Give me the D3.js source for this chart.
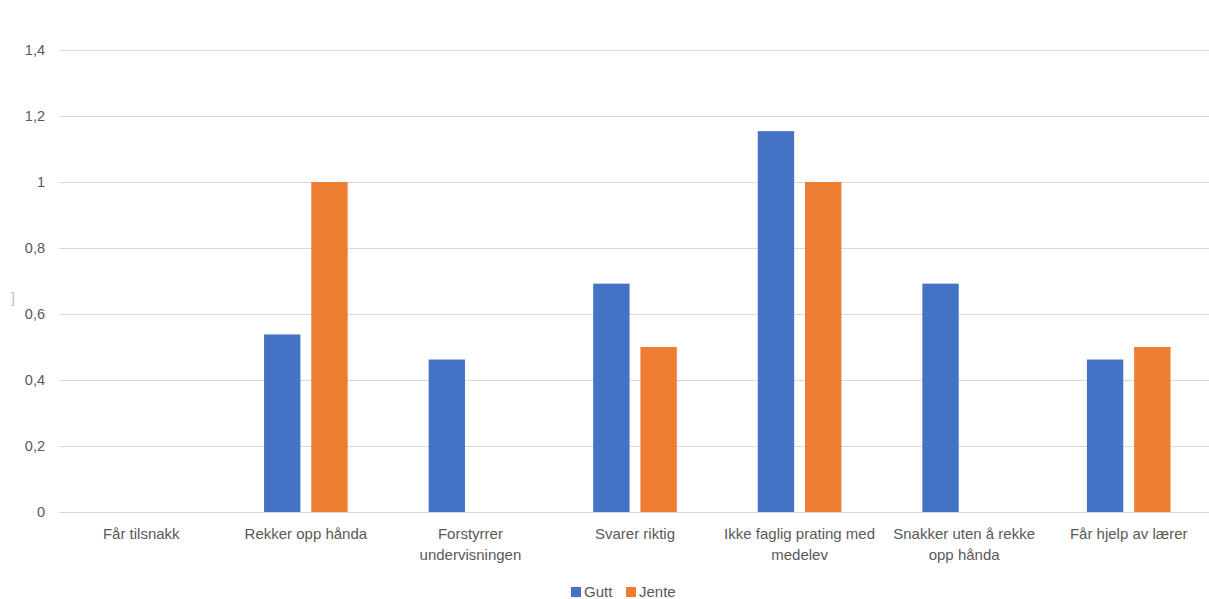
<!DOCTYPE html>
<html><head><meta charset="utf-8">
<script src="https://cdn.jsdelivr.net/npm/d3@7"></script>
<style>body{margin:0;background:#fff}svg{display:block}</style>
</head><body><svg id="c" width="1209" height="599"></svg>
<script>
const categories = ["Får tilsnakk","Rekker opp hånda","Forstyrrer undervisningen","Svarer riktig","Ikke faglig prating med medelev","Snakker uten å rekke opp hånda","Får hjelp av lærer"];
const categoryLines = [["Får tilsnakk"],["Rekker opp hånda"],["Forstyrrer","undervisningen"],["Svarer riktig"],["Ikke faglig prating med","medelev"],["Snakker uten å rekke","opp hånda"],["Får hjelp av lærer"]];
const seriesNames = ["Gutt","Jente"];
const gutt = [0, 0.538, 0.462, 0.692, 1.154, 0.692, 0.462];
const jente = [0, 1, 0, 0.5, 1, 0, 0.5];
const yTicks = [0,0.2,0.4,0.6,0.8,1,1.2,1.4];
const colors = ["#4472C4","#ED7D31"];

const svg = d3.select("#c");
const font = "'Liberation Sans', Arial, sans-serif";
const pL = 59, pR = 1211, pT = 50, pB = 512;

const x0 = d3.scaleBand().domain(categories).range([pL,pR]).paddingInner(0.492).paddingOuter(0.246);
const x1 = d3.scaleBand().domain(seriesNames).range([0,x0.bandwidth()]).paddingInner(0.23);
const y = d3.scaleLinear().domain([0,1.4]).range([pB,pT]);
const fmt = v => String(+v.toFixed(1)).replace(".",",");

// grid
svg.append("g").selectAll("line").data(yTicks).join("line")
  .attr("x1",pL).attr("x2",1209)
  .attr("y1",d=>Math.round(y(d))+0.5).attr("y2",d=>Math.round(y(d))+0.5)
  .attr("stroke","#D9D9D9").attr("stroke-width",1.2);

// y axis labels
svg.append("g").selectAll("text").data(yTicks).join("text")
  .attr("x",45).attr("y",d=>y(d)).attr("dy","0.35em")
  .attr("text-anchor","end").attr("font-family",font).attr("font-size",14.5)
  .attr("fill","#595959").text(fmt);

// small stray mark at left edge
svg.append("text").attr("x",11).attr("y",303).attr("font-family",font).attr("font-size",14)
  .attr("fill","#BBBBBB").text("]");

// bars
const rows = categories.map((c,i)=>({c, vals:[gutt[i],jente[i]]}));
const g = svg.append("g").selectAll("g").data(rows).join("g")
  .attr("transform",d=>`translate(${x0(d.c)},0)`);
g.selectAll("rect").data(d=>d.vals.map((v,j)=>({s:seriesNames[j],v,j})).filter(d=>d.v>0)).join("rect")
  .attr("x",d=>x1(d.s)).attr("width",x1.bandwidth())
  .attr("y",d=>y(d.v)).attr("height",d=>y(0)-y(d.v))
  .attr("fill",d=>colors[d.j]);

// x labels
const xl = svg.append("g").selectAll("text").data(categories).join("text")
  .attr("x",d=>x0(d)+x0.bandwidth()/2).attr("y",539)
  .attr("text-anchor","middle").attr("font-family",font).attr("font-size",15)
  .attr("fill","#595959");
xl.each(function(d,i){
  const t = d3.select(this);
  categoryLines[i].forEach((ln,k)=>t.append("tspan").attr("x",x0(d)+x0.bandwidth()/2).attr("dy",k?21:0).text(ln));
});

// legend
const leg = svg.append("g");
const legX = [571,626];
seriesNames.forEach((s,j)=>{
  leg.append("rect").attr("x",legX[j]).attr("y",587).attr("width",10).attr("height",10).attr("fill",colors[j]);
  leg.append("text").attr("x",legX[j]+13).attr("y",597).attr("font-family",font).attr("font-size",15)
    .attr("fill","#595959").text(s);
});
</script></body></html>
